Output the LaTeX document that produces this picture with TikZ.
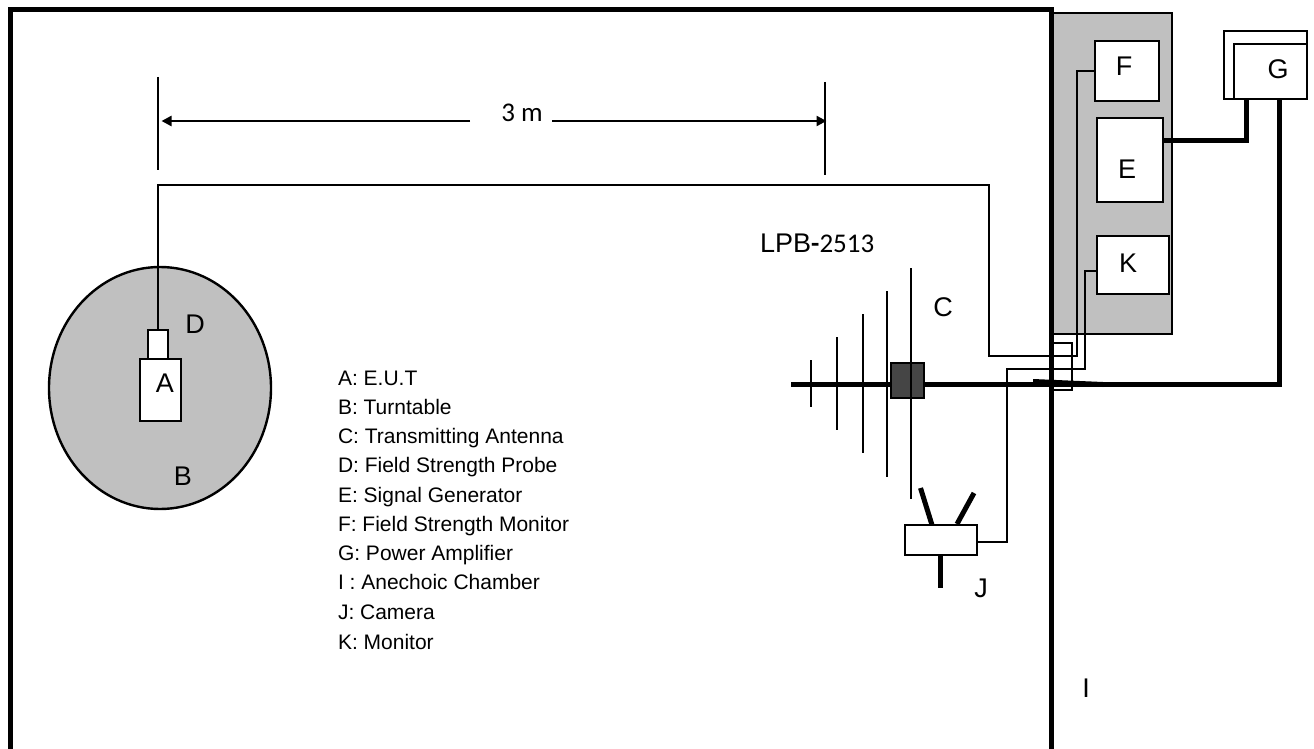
\documentclass[tikz,border=0pt]{standalone}
\usepackage{fontspec}
\setmainfont{Liberation Sans}
\newfontfamily\cbfont{Carlito}
\usetikzlibrary{arrows.meta,shapes.geometric,calc}
\definecolor{panelgray}{HTML}{C0C0C0}
\definecolor{hubgray}{HTML}{454545}
\tikzset{
  x=1pt,y=-1pt,
  wall/.style={line width=5pt,line cap=butt,line join=miter},
  thin wire/.style={line width=1.7pt,line join=miter},
  thick wire/.style={line width=5pt,line join=miter},
  element/.style={line width=2.6pt},
  leg/.style={line width=5pt},
  tick/.style={line width=2.3pt},
  dim/.style={line width=2.3pt,-{Triangle[length=10pt,width=10pt]},shorten >=-0.5pt},
  devbox/.style={draw=black,line width=2pt,fill=white,inner sep=0pt,outer sep=0pt},
  letter/.style={inner sep=0pt,outer sep=0pt,font=\fontsize{27}{27}\selectfont},
  legend/.style={inner sep=0pt,outer sep=0pt,anchor=base west,font=\fontsize{21}{21}\selectfont},
}
\newcommand{\boxat}[6]{\node[devbox,minimum width=#4-#3,minimum height=#6-#5] (#1) at ({(#3+#4)/2},{(#5+#6)/2}) {#2};}
\begin{document}
\begin{tikzpicture}
\useasboundingbox (0,0) rectangle (1314,749);
% equipment panel
\node[draw=black,line width=2pt,fill=panelgray,inner sep=0pt,outer sep=0pt,minimum width=120,minimum height=321] (panel) at (1112,173.5) {};
% turntable
\node[ellipse,draw=black,line width=2.4pt,fill=panelgray,inner sep=0pt,outer sep=0pt,minimum width=222,minimum height=242] (B) at (160,388) {};
\boxat{probe}{}{148}{168}{330}{359}
\boxat{A}{}{140}{181}{359}{421}
% chamber wall
\coordinate (wallBL) at (10,749);
\coordinate (wallTL) at (10,10);
\coordinate (wallTR) at (1051.5,10);
\coordinate (wallBR) at (1051.5,749);
% devices
\boxat{F}{}{1095}{1159}{41}{101}
\boxat{E}{}{1097}{1163}{118}{202}
\boxat{K}{}{1097}{1169}{236}{294}
\boxat{Gouter}{}{1224}{1307}{31}{99}
\boxat{G}{}{1234}{1307}{44}{99}
% thin wiring
\coordinate (fout) at (1095,71);
\coordinate (f1) at (1077,71);
\coordinate (f2) at (1077,356);
\coordinate (f3) at (989,356);
\coordinate (f4) at (989,185);
\coordinate (f5) at (158,185);
\draw[thin wire] (fout) -- (f1) -- (f2) -- (f3) -- (f4) -- (f5) -- (probe.north -| f5);
\coordinate (kout) at (1097,271);
\coordinate (k1) at (1085,271);
\coordinate (k2) at (1085,369);
\coordinate (k3) at (1007,369);
\coordinate (k4) at (1007,542);
\coordinate (jout) at (977,542);
\draw[thin wire] (kout) -- (k1) -- (k2) -- (k3) -- (k4) -- (jout);
\coordinate (e1) at (1051,343);
\coordinate (e2) at (1072,343);
\coordinate (e3) at (1072,390);
\coordinate (e4) at (1051,390);
\draw[thin wire] (e1) -- (e2) -- (e3) -- (e4);
% antenna boom and power feed
\coordinate (boomL) at (791,384);
\coordinate (boomR) at (1279,384);
\coordinate (gfeed) at (1279,99);
\draw[thick wire] (boomL) -- (boomR) -- (gfeed);
\coordinate (w1) at (1033,379);
\coordinate (w2) at (1103,382);
\coordinate (w3) at (1103,387);
\coordinate (w4) at (1033,384);
\fill[black] (w1) -- (w2) -- (w3) -- (w4) -- cycle;
% E to G
\coordinate (eout) at (1163,141);
\coordinate (ecorner) at (1246,141);
\coordinate (gin) at (1246,98);
\draw[thick wire] (eout) -- (ecorner) -- (gin);
% antenna
\node[draw=black,line width=2.4pt,fill=hubgray,inner sep=0pt,outer sep=0pt,minimum width=33,minimum height=35] (hub) at (907.5,380.5) {};
\draw[element] (811,360) -- (811,407);
\draw[element] (837,337) -- (837,430);
\draw[element] (863,314) -- (863,453);
\draw[element] (887,291) -- (887,477);
\draw[element] (911,268) -- (911,499);
% camera
\boxat{J}{}{905}{977}{525}{555}
\coordinate (l1) at (920.5,488);
\coordinate (l2) at (932,525);
\coordinate (l3) at (974,493);
\coordinate (l4) at (957,524);
\coordinate (l5) at (940,555);
\coordinate (l6) at (940,588);
\draw[leg] (l1) -- (l2);
\draw[leg] (l3) -- (l4);
\draw[leg] (l5) -- (l6);
% wall on top
\draw[wall] (wallBL) -- (wallTL) -- (wallTR) -- (wallBR);
% dimension
\coordinate (t1) at (158,77);
\coordinate (t2) at (158,170);
\coordinate (t3) at (825,82);
\coordinate (t4) at (825,175);
\draw[tick] (t1) -- (t2);
\draw[tick] (t3) -- (t4);
\node[inner sep=0pt,font=\cbfont\fontsize{27}{27}\selectfont,anchor=base] (dimtext) at (522,122) {3 m};
\coordinate (d1) at (470,121);
\coordinate (d2) at (162,121);
\coordinate (d3) at (552,121);
\coordinate (d4) at (826,121);
\draw[dim] (d1) -- (d2);
\draw[dim] (d3) -- (d4);
% labels
\node[letter] (lA) at (165,383) {A};
\node[letter] (lB) at (183,476) {B};
\node[letter] (lC) at (943,307) {C};
\node[letter] (lD) at (195,324) {D};
\node[letter] (lE) at (1127,169) {E};
\node[letter] (lF) at (1124,66) {F};
\node[letter] (lG) at (1278,69) {G};
\node[letter] (lI) at (1086,688) {I};
\node[letter] (lJ) at (981,588) {J};
\node[letter] (lK) at (1128,263) {K};
\node[inner sep=0pt,anchor=base west,font=\fontsize{27}{27}\selectfont] (model) at (760,252) {LPB{\cbfont\bfseries -}{\cbfont 2513}};
% legend
\node[legend] (k1t) at (338,385) {A: E.U.T};
\node[legend] (k2t) at (338,414) {B: Turntable};
\node[legend] (k3t) at (338,443.3) {C: Transmitting Antenna};
\node[legend] (k4t) at (338,472.7) {D: Field Strength Probe};
\node[legend] (k5t) at (338,502) {E: Signal Generator};
\node[legend] (k6t) at (338,531.7) {F: Field Strength Monitor};
\node[legend] (k7t) at (338,560.7) {G: Power Amplifier};
\node[legend] (k8t) at (338,589.3) {I : Anechoic Chamber};
\node[legend] (k9t) at (338,619.3) {J: Camera};
\node[legend] (k10t) at (338,649) {K: Monitor};
\end{tikzpicture}
\end{document}
